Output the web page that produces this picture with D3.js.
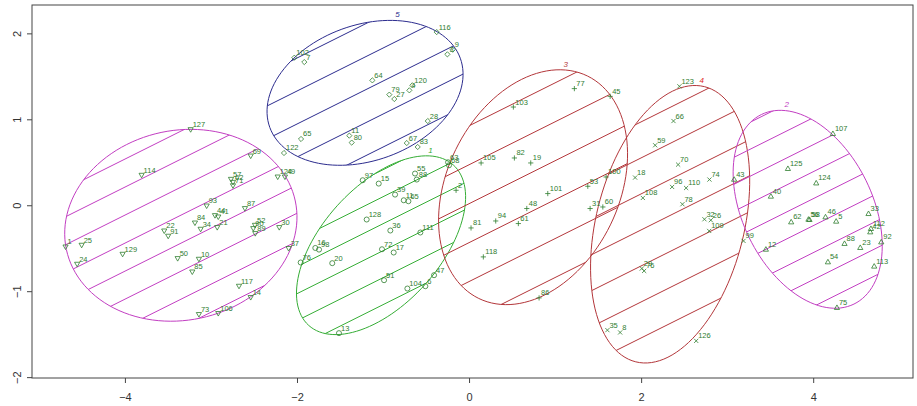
<!DOCTYPE html>
<html>
<head>
<meta charset="utf-8">
<script src="https://cdn.jsdelivr.net/npm/d3@7"></script>
<style>
    body { margin: 0; background: #fff; }
    svg { display: block; font-family: "Liberation Sans", Arial, sans-serif; }
</style>
</head>
<body>
<div id="chart"></div>
<script>

// cluster ellipses (data units, angle of major axis in degrees)
const clusterIds = [6, 5, 1, 3, 4, 2]
const ellipseCx = [-3.35, -1.209, -1.023, 0.744, 2.337, 3.936]
const ellipseCy = [-0.233, 1.308, -0.465, 0.21, -0.221, -0.047]
const ellipseA = [1.36, 1.178, 1.256, 1.44, 1.65, 1.227]
const ellipseB = [1.104, 0.788, 0.686, 1.0, 0.86, 0.756]
const ellipseAngle = [12, 20, 48, 64, 76, -64]
const showClusterLabel = [false, true, true, true, true, true]

// shading lines: y = slope * x + phase + k * gap
const hatchSlope = 0.5
const hatchGap = [0.326, 0.384, 0.314, 0.453, 0.419, 0.314]
const hatchPhase = [2.537, 2.329, 0.599, 0.924, -2.544, -3.18]

const xTicks = [-4, -2, 0, 2, 4]
const yTicks = [-2, -1, 0, 1, 2]

// observations: [label, component 1, component 2]
const pointsC6 = [
    ["127", -3.236, 0.880], ["69", -2.538, 0.573], ["114", -3.806, 0.349],
    ["124", -2.224, 0.329], ["49", -2.140, 0.329], ["57", -2.767, 0.302],
    ["62", -2.744, 0.267], ["71", -2.744, 0.227], ["93", -3.050, -0.008],
    ["44", -2.953, -0.120], ["41", -2.915, -0.136], ["84", -3.186, -0.206],
    ["34", -3.120, -0.279], ["21", -2.927, -0.259], ["87", -2.605, -0.038],
    ["52", -2.488, -0.233], ["90", -2.508, -0.271], ["89", -2.485, -0.329],
    ["30", -2.206, -0.259], ["22", -3.543, -0.299], ["91", -3.497, -0.360],
    ["1", -4.690, -0.485], ["25", -4.503, -0.465], ["37", -2.097, -0.503],
    ["129", -4.027, -0.570], ["24", -4.555, -0.686], ["50", -3.387, -0.620],
    ["10", -3.140, -0.628], ["85", -3.217, -0.776], ["117", -2.674, -0.942],
    ["14", -2.538, -1.073], ["73", -3.140, -1.271], ["106", -2.915, -1.259]
]
const pointsC5 = [
    ["102", -2.031, 1.717], ["7", -1.915, 1.666], ["116", -0.376, 2.015],
    ["9", -0.190, 1.810], ["3", -0.252, 1.756], ["64", -1.124, 1.453],
    ["120", -0.659, 1.395], ["4", -0.694, 1.337], ["79", -0.927, 1.287],
    ["27", -0.869, 1.236], ["28", -0.480, 0.980], ["65", -1.953, 0.771],
    ["11", -1.392, 0.810], ["80", -1.364, 0.729], ["67", -0.724, 0.724],
    ["83", -0.597, 0.678], ["122", -2.151, 0.608]
]
const pointsC1 = [
    ["97", -1.236, 0.291], ["15", -1.050, 0.252], ["55", -0.628, 0.369],
    ["88", -0.608, 0.299], ["39", -0.860, 0.124], ["11", -0.759, 0.058],
    ["65", -0.705, 0.047], ["128", -1.190, -0.166], ["36", -0.915, -0.294],
    ["111", -0.566, -0.317], ["16", -1.787, -0.497], ["98", -1.744, -0.516],
    ["72", -1.012, -0.512], ["17", -0.876, -0.550], ["76", -1.957, -0.666],
    ["20", -1.590, -0.674], ["51", -0.988, -0.872], ["104", -0.717, -0.969],
    ["6", -0.508, -0.942], ["47", -0.407, -0.814], ["13", -1.512, -1.488],
    ["63", -0.244, 0.500], ["68", -0.233, 0.465]
]
const pointsC3 = [
    ["77", 1.224, 1.357], ["45", 1.640, 1.267], ["103", 0.515, 1.143],
    ["105", 0.140, 0.492], ["82", 0.527, 0.550], ["19", 0.717, 0.492],
    ["101", 0.915, 0.136], ["53", 1.380, 0.221], ["100", 1.593, 0.329],
    ["48", 0.671, -0.038], ["31", 1.407, -0.038], ["60", 1.555, -0.020],
    ["81", 0.023, -0.264], ["94", 0.310, -0.183], ["61", 0.573, -0.213],
    ["118", 0.166, -0.601], ["86", 0.814, -1.078], ["2", -0.151, 0.174]
]
const pointsC4 = [
    ["123", 2.445, 1.384], ["66", 2.376, 0.980], ["59", 2.163, 0.698],
    ["70", 2.430, 0.473], ["18", 1.930, 0.322], ["74", 2.794, 0.299],
    ["96", 2.360, 0.213], ["110", 2.523, 0.201], ["108", 2.020, 0.085],
    ["78", 2.480, 0.012], ["32", 2.736, -0.163], ["26", 2.810, -0.174],
    ["109", 2.791, -0.299], ["99", 3.190, -0.415], ["29", 2.008, -0.736],
    ["76", 2.035, -0.764], ["35", 1.608, -1.453], ["8", 1.756, -1.480],
    ["126", 2.640, -1.578]
]
const pointsC2 = [
    ["107", 4.229, 0.834], ["125", 3.706, 0.427], ["43", 3.081, 0.302],
    ["124", 4.035, 0.259], ["40", 3.508, 0.105], ["62", 3.744, -0.194],
    ["56", 3.945, -0.163], ["58", 3.957, -0.166], ["46", 4.143, -0.136],
    ["5", 4.267, -0.186], ["33", 4.643, -0.097], ["112", 4.671, -0.271],
    ["42", 4.663, -0.310], ["92", 4.791, -0.427], ["88", 4.364, -0.445],
    ["23", 4.547, -0.492], ["12", 3.450, -0.512], ["54", 4.171, -0.659],
    ["113", 4.709, -0.709], ["75", 4.276, -1.190]
]

const pointsByCluster = { 6: pointsC6, 5: pointsC5, 1: pointsC1, 3: pointsC3, 4: pointsC4, 2: pointsC2 }

// styles
const ellipseColor = { 6: "#c23ec2", 5: "#2c2c8e", 1: "#35ad35", 3: "#b3363a", 4: "#b3363a", 2: "#c23ec2" }
const clusterLabelColor = { 6: "#c23ec2", 5: "#2c2c8e", 1: "#35ad35", 3: "#b3363a", 4: "#e02828", 2: "#c23ec2" }
const pointColor = "#2f7d2f"

const width = 917, height = 406

const x = d3.scaleLinear().domain([-5.08, 5.16]).range([32, 913])
const y = d3.scaleLinear().domain([-2.01, 2.33]).range([378, 5])

const svg = d3.select("#chart").append("svg")
    .attr("width", width)
    .attr("height", height)

svg.append("rect")
    .attr("width", width)
    .attr("height", height)
    .attr("fill", "#fff")

// R style pch shapes, centred on 0,0
function symbolPath(cluster) {
    var r = 2.6
    switch (cluster) {
        case 1: return d3.symbol(d3.symbolCircle, 20)()
        case 2: return `M0,${-r}L${r},${r * 0.75}L${-r},${r * 0.75}Z`
        case 3: return `M${-r},0H${r}M0,${-r}V${r}`
        case 4: return `M${-r * 0.8},${-r * 0.8}L${r * 0.8},${r * 0.8}M${-r * 0.8},${r * 0.8}L${r * 0.8},${-r * 0.8}`
        case 5: return `M0,${-r}L${r},0L0,${r}L${-r},0Z`
        case 6: return `M0,${r}L${r},${-r * 0.75}L${-r},${-r * 0.75}Z`
    }
}

function ellipsePoints(i) {
    var phi = ellipseAngle[i] * Math.PI / 180
    return d3.range(0, 361, 3).map((deg) => {
        var t = deg * Math.PI / 180
        var ex = ellipseA[i] * Math.cos(t), ey = ellipseB[i] * Math.sin(t)
        return [ellipseCx[i] + ex * Math.cos(phi) - ey * Math.sin(phi),
                ellipseCy[i] + ex * Math.sin(phi) + ey * Math.cos(phi)]
    })
}

const line = d3.line().x((d) => x(d[0])).y((d) => y(d[1]))

const defs = svg.append("defs")
const shapes = svg.append("g")

clusterIds.forEach(function(id, i) {

    var pts = ellipsePoints(i)
    var col = ellipseColor[id]

    defs.append("clipPath")
        .attr("id", "clip" + id)
        .append("path")
        .attr("d", line(pts) + "Z")

    // shading
    var intercepts = pts.map((p) => p[1] - hatchSlope * p[0])
    var lo = Math.ceil((d3.min(intercepts) - hatchPhase[i]) / hatchGap[i])
    var hi = Math.floor((d3.max(intercepts) - hatchPhase[i]) / hatchGap[i])
    var x0 = ellipseCx[i] - 2, x1 = ellipseCx[i] + 2

    var hatch = shapes.append("g").attr("clip-path", `url(#clip${id})`)
    d3.range(lo, hi + 1).forEach(function(k) {
        var b = hatchPhase[i] + k * hatchGap[i]
        hatch.append("line")
            .attr("x1", x(x0)).attr("y1", y(hatchSlope * x0 + b))
            .attr("x2", x(x1)).attr("y2", y(hatchSlope * x1 + b))
            .attr("stroke", col)
            .attr("stroke-width", 1)
    })

    shapes.append("path")
        .attr("d", line(pts) + "Z")
        .attr("fill", "none")
        .attr("stroke", col)
        .attr("stroke-width", 1)

    if (showClusterLabel[i]) {
        var top = pts.reduce((a, b) => (b[1] > a[1]) ? b : a)
        shapes.append("text")
            .attr("x", x(top[0]) + 5)
            .attr("y", y(top[1]) - 3)
            .attr("text-anchor", "middle")
            .attr("font-size", "8px")
            .attr("font-style", "italic")
            .attr("fill", clusterLabelColor[id])
            .text(id)
    }

})

// observations
clusterIds.forEach(function(id) {

    var g = svg.append("g")

    g.selectAll("path")
        .data(pointsByCluster[id])
        .join("path")
        .attr("transform", (d) => `translate(${x(d[1])},${y(d[2])})`)
        .attr("d", symbolPath(id))
        .attr("fill", "none")
        .attr("stroke", pointColor)
        .attr("stroke-width", 0.8)

    g.selectAll("text")
        .data(pointsByCluster[id])
        .join("text")
        .attr("x", (d) => x(d[1]) + 2)
        .attr("y", (d) => y(d[2]) - 2.5)
        .attr("font-size", "7.5px")
        .attr("fill", pointColor)
        .text((d) => d[0])

})

// frame and axes
svg.append("rect")
    .attr("x", x.range()[0])
    .attr("y", y.range()[1])
    .attr("width", x.range()[1] - x.range()[0])
    .attr("height", y.range()[0] - y.range()[1])
    .attr("fill", "none")
    .attr("stroke", "#444")
    .attr("stroke-width", 1)

const xAxis = svg.append("g")
    .attr("transform", `translate(0,${y.range()[0]})`)
    .call(d3.axisBottom(x).tickValues(xTicks).tickSize(5).tickPadding(10).tickFormat(d3.format("d")))

const yAxis = svg.append("g")
    .attr("transform", `translate(${x.range()[0]},0)`)
    .call(d3.axisLeft(y).tickValues(yTicks).tickSize(5).tickFormat(d3.format("d")))

yAxis.selectAll("text")
    .attr("transform", "rotate(-90)")
    .attr("x", 0)
    .attr("y", -11)
    .attr("dy", 0)
    .attr("text-anchor", "middle")

;[xAxis, yAxis].forEach(function(ax) {
    ax.select(".domain").remove()
    ax.selectAll("line").attr("stroke", "#444")
    ax.selectAll("text")
        .attr("font-family", "\"Liberation Sans\", Arial, sans-serif")
        .attr("font-size", "11px")
        .attr("fill", "#333")
})

</script>
</body>
</html>
